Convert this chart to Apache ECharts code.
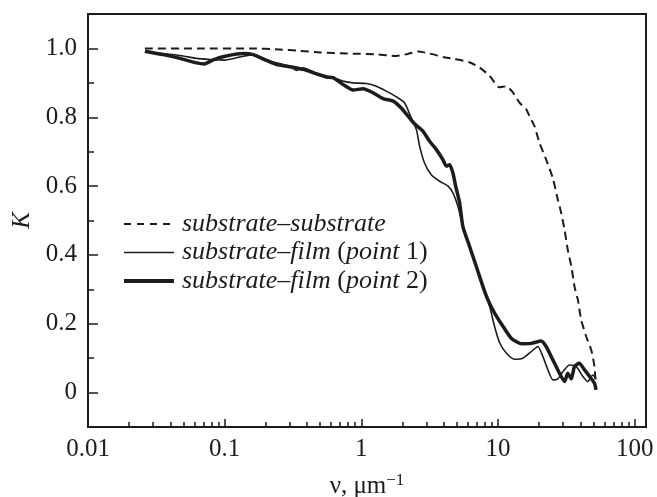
<!DOCTYPE html>
<html><head><meta charset="utf-8">
<script src="https://cdn.jsdelivr.net/npm/echarts@6/dist/echarts.min.js"></script>
<style>html,body{margin:0;padding:0;background:#fff}#c{width:657px;height:497px}</style>
</head><body><div id="c"></div>
<script>
// tick labels
const xTickValues = [0.01, 0.1, 1, 10, 100];
const xTickLabels = ['0.01', '0.1', '1', '10', '100'];
const yTickValues = [0, 0.2, 0.4, 0.6, 0.8, 1.0];
const yTickLabels = ['0', '0.2', '0.4', '0.6', '0.8', '1.0'];
const seriesNames = ['substrate\u2013substrate', 'substrate\u2013film (point 1)', 'substrate\u2013film (point 2)'];

// substrate-substrate (dashed)
const nuSub = [0.0261, 0.063, 0.158, 0.251, 0.355, 0.501, 0.794, 1.26, 1.80, 2.19, 2.59, 3.16, 3.98, 4.68, 6.17, 7.35, 8.71, 10.2, 11.5, 12.8, 14.4, 16.1, 17.0, 18.5, 20.1, 22.5, 25.1, 27.4, 29.0, 30.7, 32.4, 34.4, 36.3, 38.4, 40.6, 44.2, 48.1, 50.8, 51.6];
const kSub  = [1.0, 1.0, 1.0, 0.997, 0.993, 0.988, 0.985, 0.983, 0.978, 0.984, 0.991, 0.985, 0.975, 0.97, 0.96, 0.944, 0.92, 0.887, 0.89, 0.873, 0.842, 0.823, 0.803, 0.774, 0.726, 0.677, 0.625, 0.561, 0.522, 0.473, 0.415, 0.367, 0.308, 0.27, 0.212, 0.163, 0.124, 0.076, 0.037];

// substrate-film (point 1), thin
const nuP1 = [0.0261, 0.0355, 0.0498, 0.0624, 0.078, 0.1, 0.129, 0.162, 0.202, 0.24, 0.30, 0.335, 0.375, 0.47, 0.556, 0.621, 0.735, 0.871, 1.09, 1.29, 1.52, 1.81, 2.07, 2.32, 2.53, 2.67, 2.90, 3.25, 3.74, 4.31, 4.68, 5.09, 5.53, 6.19, 6.93, 7.76, 8.69, 9.44, 10.3, 11.5, 13.2, 15.2, 17.5, 19.6, 21.3, 23.2, 25.2, 27.4, 29.9, 33.3, 37.3, 41.8, 45.4, 49.4, 52.2];
const kP1  = [0.99, 0.985, 0.978, 0.971, 0.968, 0.966, 0.975, 0.982, 0.968, 0.958, 0.948, 0.936, 0.944, 0.928, 0.918, 0.915, 0.905, 0.90, 0.898, 0.89, 0.876, 0.859, 0.842, 0.798, 0.764, 0.716, 0.667, 0.633, 0.614, 0.60, 0.58, 0.541, 0.483, 0.425, 0.367, 0.308, 0.25, 0.192, 0.144, 0.115, 0.097, 0.10, 0.119, 0.134, 0.105, 0.066, 0.037, 0.04, 0.061, 0.08, 0.076, 0.047, 0.032, 0.051, 0.04];

// substrate-film (point 2), thick
const nuP2 = [0.0261, 0.0355, 0.0471, 0.0624, 0.0708, 0.0824, 0.103, 0.137, 0.162, 0.202, 0.24, 0.30, 0.375, 0.47, 0.556, 0.621, 0.735, 0.871, 1.03, 1.22, 1.44, 1.71, 1.96, 2.20, 2.45, 2.82, 3.16, 3.54, 3.95, 4.19, 4.43, 4.68, 4.90, 5.24, 5.53, 6.19, 6.93, 7.76, 8.43, 9.44, 10.9, 12.5, 14.8, 17.5, 20.7, 22.5, 25.2, 28.2, 30.7, 32.4, 34.4, 36.3, 39.4, 43.0, 46.8, 50.8, 52.2];
const kP2  = [0.992, 0.982, 0.971, 0.958, 0.955, 0.967, 0.978, 0.985, 0.982, 0.965, 0.953, 0.947, 0.939, 0.926, 0.917, 0.915, 0.895, 0.879, 0.883, 0.871, 0.854, 0.847, 0.827, 0.803, 0.781, 0.76, 0.73, 0.706, 0.677, 0.658, 0.662, 0.638, 0.60, 0.551, 0.483, 0.425, 0.367, 0.308, 0.27, 0.231, 0.192, 0.158, 0.142, 0.143, 0.15, 0.134, 0.095, 0.056, 0.032, 0.056, 0.04, 0.076, 0.085, 0.066, 0.047, 0.027, 0.008];

const L = v => Math.log10(v);
const toPts = (nu, k) => nu.map((v, i) => [L(v), k[i]]);
const minorX = [];
for (let d = -2; d <= 1; d++) for (let m = 2; m <= 9; m++) minorX.push(L(m * Math.pow(10, d)));

const FONT = 'Liberation Serif';
const INK = '#1c1c1c';

function legendFmt(name) {
  if (name === seriesNames[0]) return '{sp|}{i|substrate\u2013substrate}';
  const n = name.indexOf('point 1') >= 0 ? '1' : '2';
  return '{sp|}{i|substrate\u2013film} {n|(}{i|point}{n| ' + n + ')}';
}

const chart = echarts.init(document.getElementById('c'), null, {renderer: 'canvas'});
chart.setOption({
  animation: false,
  backgroundColor: '#fff',
  grid: {left: 88, right: 11, top: 14, bottom: 70, containLabel: false, outerBoundsMode: 'none',
         show: true, borderColor: INK, borderWidth: 2, backgroundColor: 'transparent'},
  legend: {
    orient: 'vertical', left: 117, top: 206,
    itemWidth: 50, itemHeight: 14, itemGap: 2.5,
    itemStyle: {opacity: 0},
    data: [
      {name: seriesNames[0], lineStyle: {width: 2, type: [7, 6]}},
      {name: seriesNames[1], lineStyle: {width: 1.6}},
      {name: seriesNames[2], lineStyle: {width: 4}}
    ],
    formatter: legendFmt,
    textStyle: {
      fontFamily: FONT, fontSize: 26, color: INK, lineHeight: 26,
      rich: {
        sp: {width: 3},
        i: {fontFamily: FONT, fontSize: 26, fontStyle: 'italic', color: INK, lineHeight: 26},
        n: {fontFamily: FONT, fontSize: 26, color: INK, lineHeight: 26}
      }
    }
  },
  xAxis: [
    {
      type: 'value', min: -2, max: 2.083, position: 'bottom',
      name: '{a|\u03bd, \u03bcm}{s|\u22121}', nameLocation: 'middle', nameGap: 45,
      nameTextStyle: {
        rich: {
          a: {fontFamily: FONT, fontSize: 25, color: INK, lineHeight: 28},
          s: {fontFamily: FONT, fontSize: 17, color: INK, verticalAlign: 'top', lineHeight: 28}
        }
      },
      axisLine: {show: true, onZero: false, lineStyle: {color: INK, width: 2}},
      axisTick: {show: true, inside: true, length: 8, customValues: xTickValues.map(L), lineStyle: {color: INK, width: 1.5}},
      axisLabel: {customValues: xTickValues.map(L), margin: 10, fontFamily: FONT, fontSize: 25, color: INK,
        formatter: v => xTickLabels[Math.round(v + 2)]},
      splitLine: {show: false}
    },
    {
      type: 'value', min: -2, max: 2.083, position: 'bottom',
      axisLine: {show: false, onZero: false},
      axisTick: {show: true, inside: true, length: 5, customValues: minorX, lineStyle: {color: INK, width: 1.5}},
      axisLabel: {show: false},
      splitLine: {show: false}
    }
  ],
  yAxis: [
    {
      type: 'value', min: -0.1, max: 1.1, position: 'left',
      name: 'K', nameLocation: 'middle', nameGap: 50,
      nameTextStyle: {fontFamily: FONT, fontSize: 25, fontStyle: 'italic', color: INK},
      axisLine: {show: true, onZero: false, lineStyle: {color: INK, width: 2}},
      axisTick: {show: true, inside: true, length: 10, customValues: yTickValues, lineStyle: {color: INK, width: 1.5}},
      axisLabel: {customValues: yTickValues, margin: 11, fontFamily: FONT, fontSize: 25, color: INK,
        formatter: v => yTickLabels[Math.round(v / 0.2)]},
      splitLine: {show: false}
    },
    {
      type: 'value', min: -0.1, max: 1.1, position: 'left',
      axisLine: {show: false, onZero: false},
      axisTick: {show: true, inside: true, length: 6, customValues: [0.1, 0.3, 0.5, 0.7, 0.9], lineStyle: {color: INK, width: 1.5}},
      axisLabel: {show: false},
      splitLine: {show: false}
    }
  ],
  series: [
    {name: seriesNames[0], type: 'line', data: toPts(nuSub, kSub), symbol: 'none', smooth: 0.2,
     lineStyle: {color: INK, width: 2, type: [8, 5]}, itemStyle: {color: INK}},
    {name: seriesNames[1], type: 'line', data: toPts(nuP1, kP1), symbol: 'none', smooth: 0.2,
     lineStyle: {color: INK, width: 1.6}, itemStyle: {color: INK}},
    {name: seriesNames[2], type: 'line', data: toPts(nuP2, kP2), symbol: 'none', smooth: 0.2,
     lineStyle: {color: INK, width: 3.5}, itemStyle: {color: INK}}
  ]
});
</script>
</body></html>
